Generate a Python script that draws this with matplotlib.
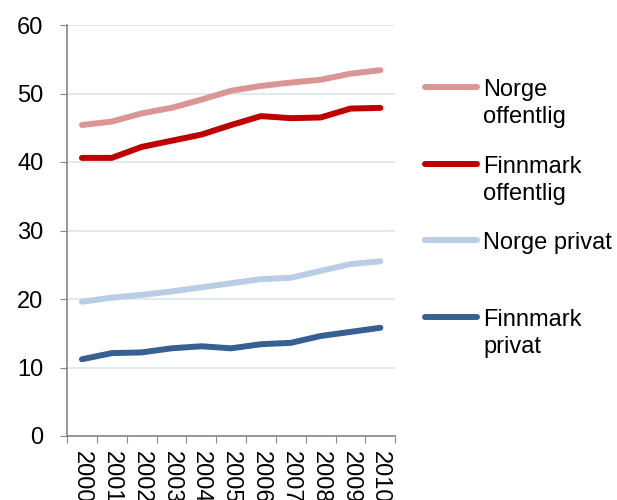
import matplotlib
matplotlib.use("Agg")
import matplotlib.pyplot as plt
from matplotlib.lines import Line2D
import numpy as np

plt.rcParams["font.family"] = ["Liberation Sans", "DejaVu Sans"]

years = [str(y) for y in range(2000, 2011)]
norge_off = [45.4, 45.9, 47.1, 47.9, 49.1, 50.4, 51.1, 51.6, 52.0, 52.9, 53.4]
finn_off = [40.6, 40.6, 42.2, 43.1, 44.0, 45.4, 46.7, 46.4, 46.5, 47.8, 47.9]
norge_priv = [19.6, 20.2, 20.6, 21.1, 21.7, 22.3, 22.9, 23.1, 24.1, 25.1, 25.5]
finn_priv = [11.2, 12.1, 12.2, 12.8, 13.1, 12.8, 13.4, 13.6, 14.6, 15.2, 15.8]

labels = ["Norge\noffentlig", "Finnmark\noffentlig", "Norge privat", "Finnmark\nprivat"]
series = [norge_off, finn_off, norge_priv, finn_priv]
colors = ["#d99694", "#c00000", "#b9cde5", "#376092"]

FS = 17

fig = plt.figure(figsize=(6.17, 5.0), dpi=100)
ax = fig.add_axes([0.1086, 0.128, 0.532, 0.822])

x = np.arange(len(years))
for vals, col in zip(series, colors):
    ax.plot(x, vals, color=col, lw=4.3, solid_capstyle="round", solid_joinstyle="round", zorder=3)

ax.set_xlim(-0.5, len(years) - 0.5)
ax.set_ylim(0, 60)
ax.set_yticks(range(0, 61, 10))
ax.yaxis.grid(True, color="#dce6f0", lw=1.2)
ax.set_axisbelow(True)

# category boundaries get the tick marks, labels sit between them
ax.set_xticks(np.arange(-0.5, len(years), 1.0))
ax.set_xticklabels([])
ax.set_xticks(x, minor=True)
ax.set_xticklabels(years, minor=True, rotation=-90, fontsize=FS, va="top", ha="center")
ax.tick_params(axis="x", which="minor", length=0, pad=11)
ax.tick_params(axis="x", which="major", length=5, color="#868686", direction="out")
ax.tick_params(axis="y", length=5, color="#868686", direction="out", labelsize=FS, pad=12)

for s in ["top", "right"]:
    ax.spines[s].set_visible(False)
for s in ["left", "bottom"]:
    ax.spines[s].set_color("#868686")
    ax.spines[s].set_linewidth(1.2)

# hand-placed legend, one slot per series (pixel positions from the top)
slot_y = [87, 164, 240, 317]
for lab, col, yp in zip(labels, colors, slot_y):
    fy = 1 - yp / 500
    fig.add_artist(Line2D([425 / 617, 477 / 617], [fy, fy], color=col, lw=4.3,
                          solid_capstyle="round"))
    for j, line in enumerate(lab.split("\n")):
        fig.text(483 / 617, 1 - (yp + 9 + 27 * j) / 500, line, fontsize=FS,
                 va="baseline", ha="left")

plt.savefig("out.png", dpi=100)
